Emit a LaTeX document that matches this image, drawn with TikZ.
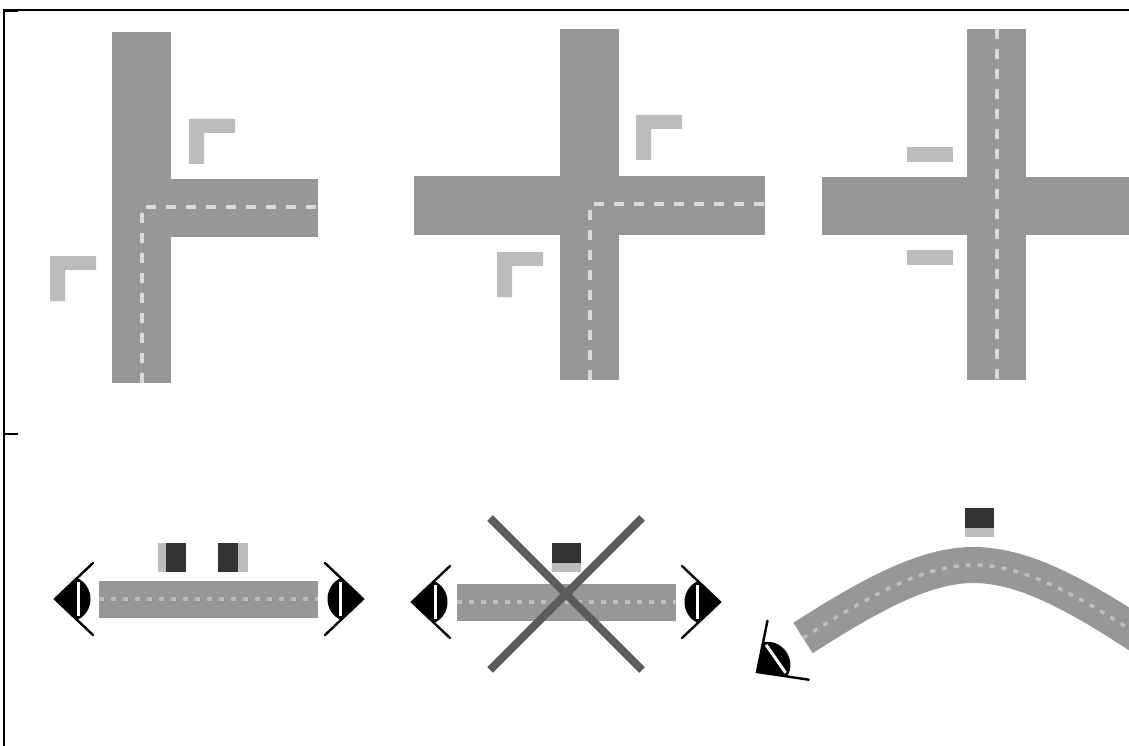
\documentclass[tikz,border=0pt]{standalone}
\definecolor{asphalt}{HTML}{979797}
\definecolor{pale}{HTML}{BCBCBC}
\definecolor{stripe}{HTML}{DADADA}
\definecolor{dim}{HTML}{BEBEBE}
\definecolor{plate}{HTML}{333333}
\definecolor{crossing}{HTML}{5C5C5C}
\begin{document}
\begin{tikzpicture}[
  x=1pt,y=-1pt,
  road/.style={fill=asphalt},
  lane/.style={draw=stripe,line width=3.5pt,dash pattern=on 10pt off 10pt},
  fine/.style={draw=dim,line width=3.5pt,dash pattern=on 5pt off 7pt},
  curveroad/.style={draw=asphalt,line width=36pt},
  rim/.style={draw=black,line width=2.4pt,line cap=round},
  frameline/.style={draw=black,line width=1.8pt},
  ban/.style={draw=crossing,line width=8pt}
]
  \useasboundingbox (0,0) rectangle (1129,746);

  % frame
  \draw[frameline] (1129,10) -- (4,10) -- (4,746);
  \draw[frameline] (4,11) -- (18,11);
  \draw[frameline] (4,434) -- (18,434);

  % upper row
  \fill[road] (112,32) rectangle (171,383);
  \fill[road] (170,179) rectangle (318,237);
  \draw[lane] (142,383) -- (142,207) -- (318,207);

  \fill[road] (560,29) rectangle (619,380);
  \fill[road] (414,176) rectangle (765,235);
  \draw[lane] (590,380) -- (590,204) -- (765,204);

  \fill[road] (967,29) rectangle (1026,380);
  \fill[road] (822,177) rectangle (1129,235);
  \draw[lane] (997,29) -- (997,380);

  \foreach \x/\y in {189/119,50/256,636/115,497/252}{
    \fill[pale] (\x,\y) -- ++(46,0) -- ++(0,14) -- ++(-31,0)
      -- ++(0,31) -- ++(-15,0) -- cycle;
  }
  \foreach \y in {147,250}{
    \fill[pale] (907,\y) rectangle (953,\y+15);
  }

  % lower row
  \foreach \x/\y in {99/581,457/584}{
    \fill[road] (\x,\y) rectangle (\x+219,\y+37);
    \draw[fine] (\x,\y+18) -- (\x+219,\y+18);
  }
  \draw[curveroad] (803,638) .. controls (870,595) and (925,565) .. (973,565)
    .. controls (1020,565) and (1070,590) .. (1140,636);
  \draw[fine] (803,638) .. controls (870,595) and (925,565) .. (973,565)
    .. controls (1020,565) and (1070,590) .. (1140,636);

  \fill[pale] (158,543) rectangle (167,572);
  \fill[plate] (166,543) rectangle (186,572);
  \fill[pale] (237,543) rectangle (248,572);
  \fill[plate] (218,543) rectangle (238,572);
  \foreach \x/\y in {552/543,965/508}{
    \fill[pale] (\x,\y+19) rectangle (\x+29,\y+29);
    \fill[plate] (\x,\y) rectangle (\x+29,\y+20);
  }

  \draw[ban] (490,518) -- (642,670);
  \draw[ban] (642,518) -- (490,670);

  % eyes
  \foreach \x/\y/\a in {55/599/0,363/599/180,412/602/0,720/602/180,757/672/35}{
    \begin{scope}[shift={(\x,\y)},rotate=\a]
      \fill[black] (0,0) -- (22,-21) .. controls (40,-13) and (40,13) .. (22,21) -- cycle;
      \fill[white] (21.5,-17) rectangle (24.5,17);
      \draw[rim] (38,-36) -- (0,0) -- (38,36);
    \end{scope}
  }
\end{tikzpicture}
\end{document}
